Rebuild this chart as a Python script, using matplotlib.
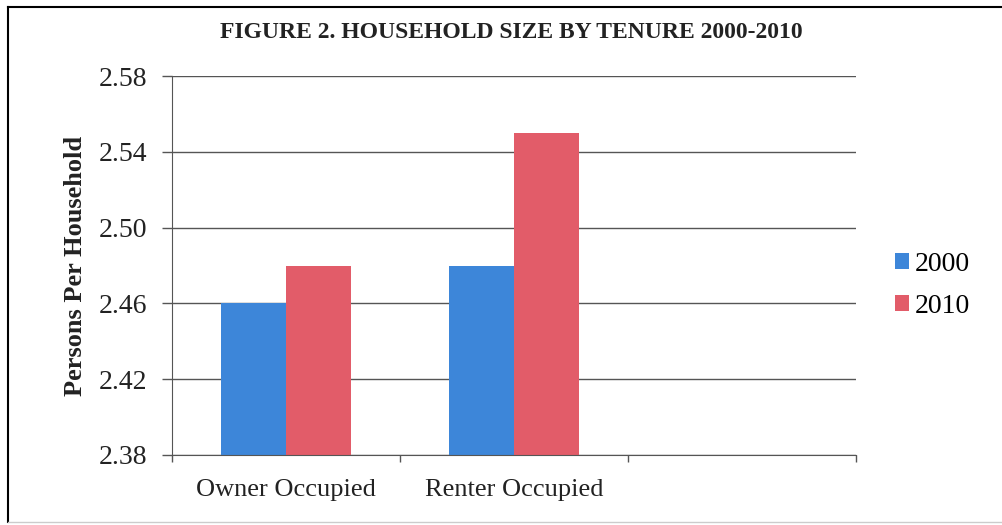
import numpy as np
import matplotlib.pyplot as plt
from matplotlib.lines import Line2D

# data
categories = ['Owner Occupied', 'Renter Occupied', '']
years = ['2000', '2010']
size_2000 = [2.46, 2.48]
size_2010 = [2.48, 2.55]
y_ticks = [2.38, 2.42, 2.46, 2.50, 2.54, 2.58]

colors = {'2000': '#3d86d9', '2010': '#e25c69'}

plt.rcParams['font.family'] = ['Liberation Serif', 'DejaVu Serif']

fig = plt.figure(figsize=(10.02, 5.25), dpi=100)
ax = fig.add_axes([172 / 1002, 1 - 455 / 525, (856 - 172) / 1002, (455 - 76) / 525])

x = np.arange(len(size_2000))
width = 0.285
ax.bar(x - width / 2, size_2000, width, color=colors['2000'], label=years[0], zorder=2)
ax.bar(x + width / 2, size_2010, width, color=colors['2010'], label=years[1], zorder=2)

ax.set_xlim(-0.5, len(categories) - 0.5)
ax.set_ylim(y_ticks[0], y_ticks[-1])
ax.set_yticks(y_ticks)
ax.set_yticklabels([f'{v:.2f}' for v in y_ticks], fontsize=20, color='#222222')

# category labels centred, tick marks at slot boundaries
ax.set_xticks(np.arange(len(categories)))
ax.set_xticklabels(categories, fontsize=19, color='#222222')
ax.tick_params(axis='x', length=0, pad=17)
ax.set_xticks(np.arange(len(categories) + 1) - 0.5, minor=True)
ax.tick_params(axis='x', which='minor', length=5, width=1, color='#555555', direction='out')
ax.tick_params(axis='y', length=7, width=1, color='#555555', direction='out', pad=11)

ax.grid(axis='y', color='#555555', linewidth=1, zorder=0)
for side in ['top', 'right']:
    ax.spines[side].set_visible(False)
for side in ['left', 'bottom']:
    ax.spines[side].set_color('#555555')

ax.set_ylabel('Persons Per Household', fontsize=19, fontweight='bold', labelpad=8, color='#222222')

fig.text(0.51, 1 - 33 / 525, 'FIGURE 2. HOUSEHOLD SIZE BY TENURE 2000-2010',
         ha='center', va='center', fontsize=17, fontweight='bold', color='#222222')

ax.legend(loc='center left', bbox_to_anchor=(1.021, 0.447), frameon=False, fontsize=20,
          handlelength=0.5, handleheight=0.5, handletextpad=0.2, labelspacing=0.6)

# page frame
fig.add_artist(Line2D([8 / 1002, 8 / 1002], [1 - 7 / 525, 1 - 522 / 525], color='black', lw=1.5))
fig.add_artist(Line2D([8 / 1002, 1.0], [1 - 7 / 525, 1 - 7 / 525], color='black', lw=1.5))
fig.add_artist(Line2D([8 / 1002, 1.0], [1 - 522 / 525, 1 - 522 / 525], color='#cccccc', lw=1))

fig.savefig('out.png', dpi=100)
